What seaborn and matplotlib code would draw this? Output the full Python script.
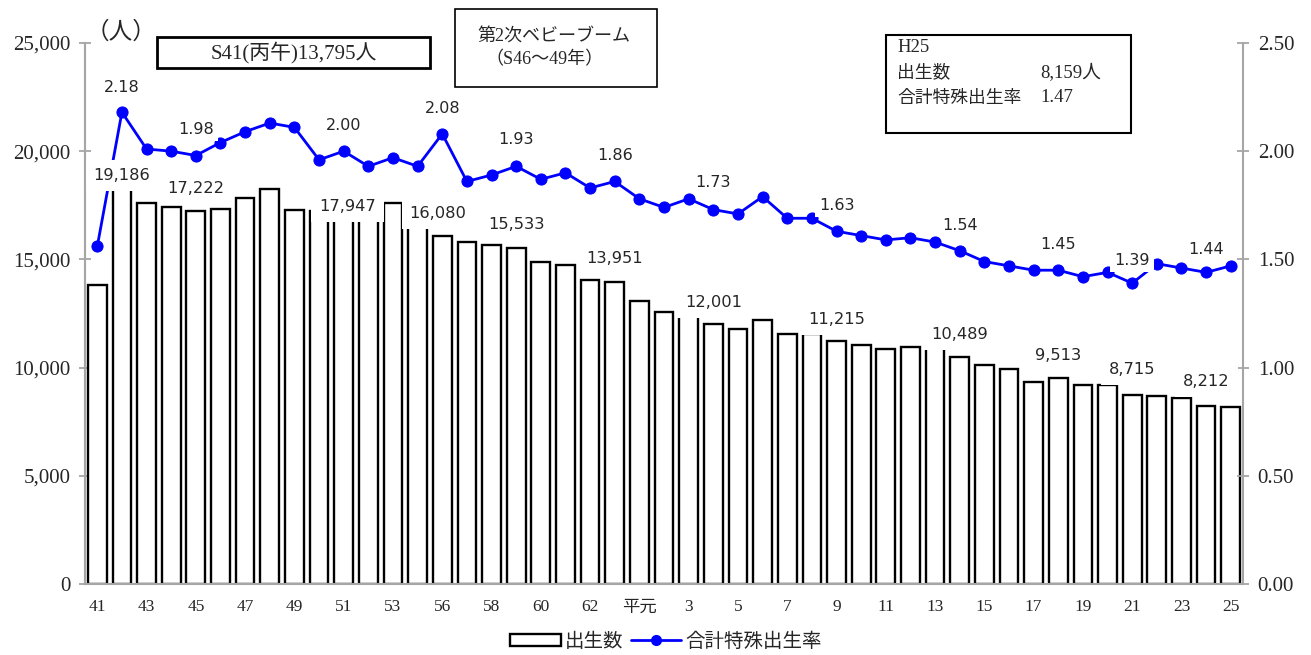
import numpy as np
import pandas as pd
import matplotlib
matplotlib.use("Agg")
import matplotlib.pyplot as plt
from matplotlib.patches import Patch, Rectangle
from matplotlib.lines import Line2D
import seaborn as sns

# 年次（昭和41年～平成25年）
years = ["41", "42", "43", "44", "45", "46", "47", "48", "49", "50", "51", "52", "53",
         "55", "56", "57", "58", "59", "60", "61", "62", "63", "平元",
         "2", "3", "4", "5", "6", "7", "8", "9", "10", "11", "12", "13", "14", "15",
         "16", "17", "18", "19", "20", "21", "22", "23", "24", "25"]

# 出生数（人）
births = [13795, 19186, 17606, 17421, 17222, 17347, 17838, 18255, 17280, 17240,
          17947, 17500, 17600, 16900, 16080, 15819, 15662, 15533, 14894, 14736,
          14060, 13951, 13056, 12546, 12420, 12001, 11773, 12208, 11542, 11574,
          11215, 11051, 10866, 10940, 10900, 10489, 10139, 9921, 9352, 9513,
          9190, 9180, 8715, 8674, 8613, 8212, 8159]

# 合計特殊出生率
tfr = [1.56, 2.18, 2.01, 2.00, 1.98, 2.04, 2.09, 2.13, 2.11, 1.96, 2.00, 1.93,
       1.97, 1.93, 2.08, 1.86, 1.89, 1.93, 1.87, 1.90, 1.83, 1.86, 1.78, 1.74,
       1.78, 1.73, 1.71, 1.79, 1.69, 1.69, 1.63, 1.61, 1.59, 1.60, 1.58, 1.54,
       1.49, 1.47, 1.45, 1.45, 1.42, 1.44, 1.39, 1.48, 1.46, 1.44, 1.47]

# 値ラベルを付ける年（インデックス）
label_idx = [1, 4, 10, 14, 17, 21, 25, 30, 35, 39, 42, 45]

# ラベル位置の調整（ポイント）
birth_dy = [-5, 16.5, -8, 16.5, 16.5, 17, 16, 16, 16, 16, 18.5, 18]
birth_dx = [0, 0, 3, -3, 0, 0, 0, 0, 0, 0, 0, 0]
tfr_dy = [18, 18.5, 18.5, 18.5, 19, 19, 19.5, 18.5, 18.5, 18.5, 16, 16.5]

GRAY = "#A6A6A6"
SERIF = ["Liberation Serif", "Noto Sans CJK JP"]
SANS = ["Noto Sans CJK JP", "DejaVu Sans"]
NUM = ["DejaVu Sans"]

sns.set_theme(style="white")
plt.rcParams["font.family"] = SANS

df = pd.DataFrame({"年": years, "出生数": births, "合計特殊出生率": tfr})

fig = plt.figure(figsize=(13.11, 6.55), dpi=100)
ax = fig.add_axes([0.0648, 0.1084, 0.8834, 0.826])

sns.barplot(data=df, x="年", y="出生数", ax=ax, color="white", saturation=1,
            edgecolor="black", linewidth=1.7, width=0.76)

ax.set_xlim(-0.5, len(years) - 0.5)
ax.set_ylim(0, 25000)
yt = np.arange(0, 25001, 5000)
ax.set_yticks(yt)
ax.set_yticklabels([f"{v:,}" for v in yt], fontfamily=SERIF, fontsize=15)
xt = list(range(0, len(years), 2))
ax.set_xticks(xt)
ax.set_xticklabels([years[i] for i in xt], fontfamily=SERIF, fontsize=12.5)
ax.set_xlabel("")
ax.set_ylabel("")
ax.tick_params(axis="y", direction="inout", length=9, width=1.3, color=GRAY, pad=6)
ax.tick_params(axis="x", length=0, pad=11)

# 合計特殊出生率（右軸）
ax2 = ax.twinx()
sns.lineplot(x=np.arange(len(tfr)), y=tfr, ax=ax2, color="#0000FF", linewidth=2,
             marker="o", markersize=8, markeredgecolor="#0000FF")
ax2.set_ylim(0, 2.5)
rt = np.arange(0, 2.51, 0.5)
ax2.set_yticks(rt)
ax2.set_yticklabels([f"{v:.2f}" for v in rt], fontfamily=SERIF, fontsize=15)
ax2.set_xlim(-0.5, len(years) - 0.5)
ax2.tick_params(axis="y", direction="inout", length=9, width=1.3, color=GRAY, pad=6)

for a in (ax, ax2):
    a.spines["top"].set_visible(False)
    for s in ("left", "right", "bottom"):
        a.spines[s].set_color(GRAY)
        a.spines[s].set_linewidth(1.5)
ax.spines["right"].set_visible(False)
ax2.spines["bottom"].set_visible(False)
# 左軸の線をラベルの上に重ねる
ax2.spines["left"].set_zorder(20)

bar_box = dict(boxstyle="square,pad=0.5", fc="white", ec="none")
tfr_box = dict(boxstyle="square,pad=0.25", fc="white", ec="none")

# 出生数ラベル
for k, i in enumerate(label_idx):
    ax2.annotate(f"{births[i]:,}", xy=(i, births[i]), xycoords=ax.transData,
                 xytext=(birth_dx[k], birth_dy[k]), textcoords="offset points",
                 ha="center", va="center", fontsize=11.7, fontfamily=NUM,
                 bbox=bar_box, zorder=10)

# 合計特殊出生率ラベル
for k, i in enumerate(label_idx):
    ax2.annotate(f"{tfr[i]:.2f}", xy=(i, tfr[i]), xycoords="data",
                 xytext=(0, tfr_dy[k]), textcoords="offset points",
                 ha="center", va="center", fontsize=11.5, fontfamily=NUM,
                 bbox=tfr_box, zorder=10)

# 単位
fig.text(0.0923, 0.951, "（人）", fontsize=17, fontfamily=SERIF, ha="center", va="center")

# 丙午の注記
fig.add_artist(Rectangle((0.1198, 0.8962), 0.2082, 0.0473, transform=fig.transFigure,
                         fc="white", ec="black", lw=2))
fig.text(0.2239, 0.9198, f"S41(丙午){births[0]:,}人", fontsize=15, fontfamily=SERIF,
         ha="center", va="center")

# 第2次ベビーブーム
fig.add_artist(Rectangle((0.3471, 0.8672), 0.1541, 0.1191, transform=fig.transFigure,
                         fc="white", ec="black", lw=1.2))
fig.text(0.4226, 0.9435, "第2次ベビーブーム", fontsize=13, fontfamily=SERIF,
         ha="center", va="center")
fig.text(0.4157, 0.9084, "（S46～49年）", fontsize=13, fontfamily=SERIF,
         ha="center", va="center")

# H25 の値
fig.add_artist(Rectangle((0.6758, 0.797), 0.1869, 0.1496, transform=fig.transFigure,
                         fc="white", ec="black", lw=1.5))
fig.text(0.6842, 0.9282, "H25", fontsize=13.5, fontfamily=SERIF, va="center")
fig.text(0.6842, 0.8885, "出生数", fontsize=12.8, fontfamily=SERIF, va="center")
fig.text(0.6842, 0.8504, "合計特殊出生率", fontsize=12.8, fontfamily=SERIF, va="center")
fig.text(0.7933, 0.8885, f"{births[-1]:,}人", fontsize=13.5, fontfamily=SERIF, va="center")
fig.text(0.7933, 0.8504, f"{tfr[-1]:.2f}", fontsize=13.5, fontfamily=SERIF, va="center")

handles = [Patch(fc="white", ec="black", lw=1.7, label="出生数"),
           Line2D([], [], color="#0000FF", lw=2, marker="o", ms=7, label="合計特殊出生率")]
fig.legend(handles=handles, loc="center", bbox_to_anchor=(0.508, 0.021), ncol=2,
           frameon=False, fontsize=14, handlelength=2.6, handleheight=0.55,
           columnspacing=0.4, handletextpad=0.2, borderpad=0.1)

fig.savefig("out.png", dpi=100)
